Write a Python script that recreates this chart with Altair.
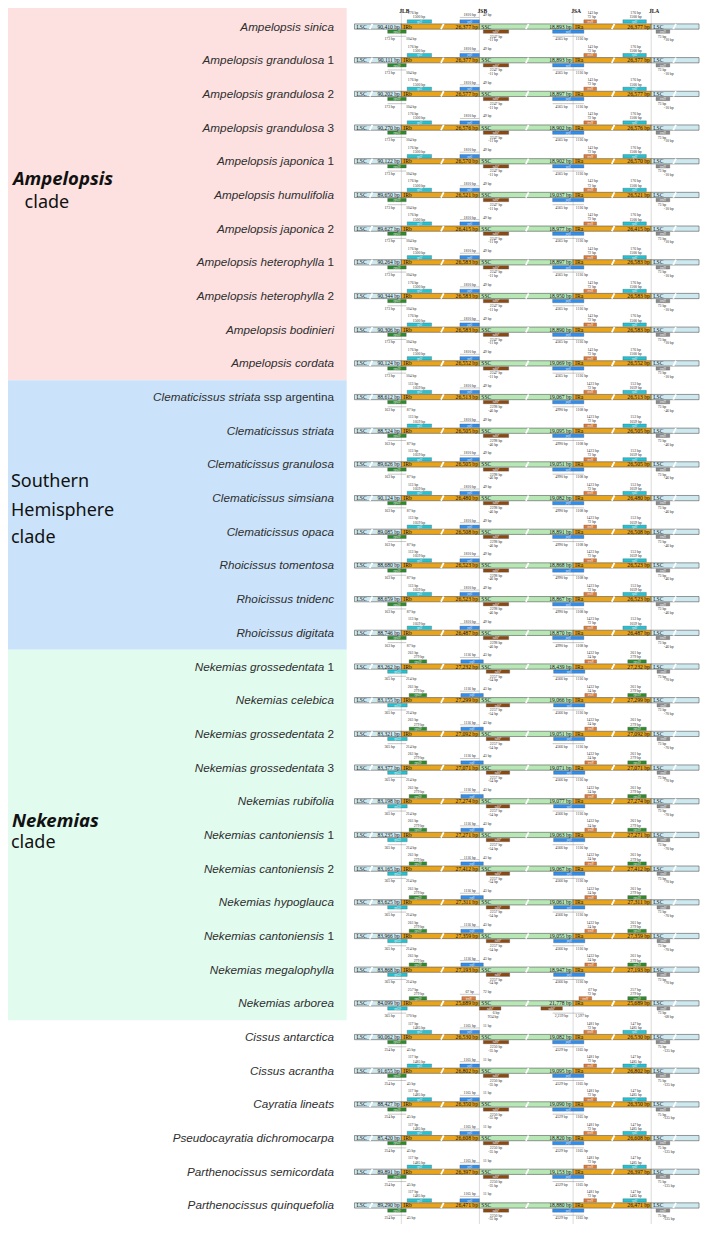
import altair as alt
import pandas as pd

# ---------------- values ----------------
SPECIES = [
    "Ampelopsis sinica", "Ampelopsis grandulosa", "Ampelopsis grandulosa", "Ampelopsis grandulosa",
    "Ampelopsis japonica", "Ampelopsis humulifolia", "Ampelopsis japonica", "Ampelopsis heterophylla",
    "Ampelopsis heterophylla", "Ampelopsis bodinieri", "Ampelopsis cordata",
    "Clematicissus striata", "Clematicissus striata", "Clematicissus granulosa", "Clematicissus simsiana",
    "Clematicissus opaca", "Rhoicissus tomentosa", "Rhoicissus tnidenc", "Rhoicissus digitata",
    "Nekemias grossedentata", "Nekemias celebica", "Nekemias grossedentata", "Nekemias grossedentata",
    "Nekemias rubifolia", "Nekemias cantoniensis", "Nekemias cantoniensis", "Nekemias hypoglauca",
    "Nekemias cantoniensis", "Nekemias megalophylla", "Nekemias arborea",
    "Cissus antarctica", "Cissus acrantha", "Cayratia lineats", "Pseudocayratia dichromocarpa",
    "Parthenocissus semicordata", "Parthenocissus quinquefolia",
]
SUFFIX = [
    "", "1", "2", "3", "1", "", "2", "1", "2", "", "",
    "ssp argentina", "", "", "", "", "", "", "",
    "1", "", "2", "3", "", "1", "2", "", "1", "", "",
    "", "", "", "", "", "",
]
LSC_BP = [
    "90,410", "90,111", "90,202", "90,270", "90,122", "89,650", "89,627", "90,264", "90,344", "90,306", "90,124",
    "88,612", "88,524", "89,626", "90,124", "89,085", "88,680", "88,659", "88,746",
    "83,262", "83,155", "83,321", "83,377", "83,198", "83,235", "83,165", "83,625", "83,966", "83,868", "84,099",
    "90,062", "91,655", "88,427", "85,420", "89,891", "89,290",
]
IR_BP = [
    "26,377", "26,377", "26,577", "26,576", "26,570", "26,521", "26,415", "26,583", "26,583", "26,583", "26,552",
    "26,513", "26,505", "26,505", "26,480", "26,508", "26,523", "26,523", "26,487",
    "27,232", "27,299", "27,092", "27,071", "27,274", "27,271", "27,412", "27,311", "27,359", "27,193", "25,689",
    "26,530", "26,802", "26,350", "26,608", "26,397", "26,471",
]
SSC_BP = [
    "18,893", "18,893", "18,897", "18,902", "18,902", "19,037", "18,977", "18,897", "18,950", "18,890", "19,069",
    "19,067", "19,095", "19,051", "19,082", "18,891", "18,868", "18,867", "18,870",
    "18,439", "19,066", "19,051", "19,071", "19,077", "19,063", "19,067", "19,061", "19,055", "18,947", "21,778",
    "19,082", "19,095", "19,090", "18,820", "19,153", "18,880",
]
TEMPLATE = ["A"] * 11 + ["S"] * 8 + ["N"] * 10 + ["R"] + ["O"] * 6

CLADE_LINES = ["Ampelopsis", "clade", "Southern", "Hemisphere", "clade", "Nekemias", "clade"]
CLADE_LINE_BOLD = [True, False, False, False, False, True, False]
CLADE_FIRST = [0, 11, 19]
CLADE_LAST = [10, 18, 29]
CLADE_NAMES = ["Ampelopsis", "Southern Hemisphere", "Nekemias"]
CLADE_COLORS = ["#fde1e1", "#cae3fa", "#e2fbef"]

REGIONS = ["LSC", "IRb", "SSC", "IRa", "LSC"]
REGION_KIND = ["LSC", "IR", "SSC", "IR", "LSC"]
JUNCTIONS = ["JLB", "JSB", "JSA", "JLA"]

GENES = ["rpl2", "rpl22", "rps19", "ycf1", "trnN", "ndhF", "trnH"]
GENE_COLORS = ["#22c3d3", "#22c3d3", "#2e8b2e", "#2f8ff0", "#e07b36", "#8b4a14", "#8c8c8c"]

# gene features per template: (gene, start, end, side) in schematic units
BOXES_A = [("rpl2", 54, 79, "up"), ("ycf1", 108, 128, "up"), ("trnN", 235, 248, "up"),
           ("rpl2", 275, 299, "up"), ("rps19", 34, 53, "down"), ("ndhF", 132, 158, "down"),
           ("ycf1", 203, 235, "down"), ("trnH", 309, 323, "down")]
BOXES_N = [("rps19", 56, 74, "up"), ("ycf1", 109, 132, "up"), ("trnN", 236, 248, "up"),
           ("rps19", 280, 299, "up"), ("rpl22", 34, 54, "down"), ("ndhF", 135, 159, "down"),
           ("ycf1", 204, 236, "down"), ("trnH", 310, 323, "down")]
BOXES_R = [("rps19", 56, 74, "up"), ("trnN", 110, 124, "up"), ("trnN", 230, 243, "up"),
           ("rps19", 280, 299, "up"), ("rpl22", 34, 54, "down"), ("ndhF", 128, 150, "down"),
           ("ndhF", 191, 213, "down"), ("trnH", 310, 323, "down")]
BOXES = {"A": BOXES_A, "S": BOXES_A, "O": BOXES_A, "N": BOXES_N, "R": BOXES_R}

ANNOT = {
    "A": ["176 bp", "1500 bp", "1810 bp", "49 bp", "143 bp", "72 bp", "176 bp", "1500 bp",
          "173 bp", "104 bp", "2247 bp", "-11 bp", "4565 bp", "1116 bp", "73 bp", "-10 bp"],
    "S": ["113 bp", "1059 bp", "1810 bp", "49 bp", "1423 bp", "72 bp", "153 bp", "1059 bp",
          "163 bp", "87 bp", "2298 bp", "-46 bp", "4990 bp", "1108 bp", "73 bp", "-46 bp"],
    "N": ["261 bp", "279 bp", "1116 bp", "43 bp", "1432 bp", "24 bp", "261 bp", "279 bp",
          "365 bp", "214 bp", "2257 bp", "-54 bp", "4566 bp", "1116 bp", "73 bp", "-70 bp"],
    "R": ["257 bp", "279 bp", "67 bp", "72 bp", "67 bp", "72 bp", "257 bp", "279 bp",
          "365 bp", "170 bp", "6 bp", "934 bp", "2,239 bp", "1,597 bp", "73 bp", "-68 bp"],
    "O": ["117 bp", "1485 bp", "1165 bp", "11 bp", "1481 bp", "72 bp", "147 bp", "1485 bp",
          "254 bp", "45 bp", "2250 bp", "-35 bp", "4529 bp", "1165 bp", "75 bp", "-135 bp"],
}

# ---------------- layout (schematic coordinates) ----------------
W, H = 692, 1216
X_DOMAIN = [0, 709]
Y_DOMAIN = [-0.55, 35.55]
PANEL_X0 = 355
BOUNDS = [0, 48, 128, 224, 304, 353]
SLASHES = [17, 90, 177, 265, 328]
LEFT_PANEL_END = 347
LABEL_RIGHT = 334
ANNOT_SLOTS = [(60, -0.40), (66, -0.27), (118, -0.33), (136, -0.33), (244, -0.40), (243, -0.28),
               (288, -0.40), (288, -0.27), (36, 0.38), (58, 0.38), (145, 0.30), (142, 0.41),
               (212, 0.38), (233, 0.38), (315, 0.30), (322, 0.41)]
MEASURES = [(34, 53, 0.29), (108, 128, -0.27), (203, 235, 0.29)]
CLADE_POS = [(5, 4.69), (17, 5.39), (3, 13.68), (3, 14.52), (3, 15.34), (4, 23.76), (3, 24.38)]
BAR_HALF = 0.078
K = W / X_DOMAIN[1]

CHAR_W = {" ": 278, "s": 500, "p": 556, "a": 556, "r": 333, "g": 556, "e": 556, "n": 556,
          "t": 278, "i": 222}


def text_width(s, size):
    return sum(CHAR_W.get(c, 556) for c in s) / 1000 * size


# ---------------- tables ----------------
n = len(SPECIES)
seg, bar_lbl, bar_val, slash, boxes, glabel, annot, meas = [], [], [], [], [], [], [], []
for r in range(n):
    vals = [LSC_BP[r], IR_BP[r], SSC_BP[r], IR_BP[r]]
    for i in range(5):
        seg.append(dict(x=PANEL_X0 + BOUNDS[i], x2=PANEL_X0 + BOUNDS[i + 1],
                        y=r - BAR_HALF, y2=r + BAR_HALF, kind=REGION_KIND[i]))
        bar_lbl.append(dict(x=PANEL_X0 + BOUNDS[i] + 2, y=r, t=REGIONS[i]))
        if i < 4:
            bar_val.append(dict(x=PANEL_X0 + BOUNDS[i + 1] - 1.5, y=r, t=vals[i] + " bp"))
    for s in SLASHES:
        slash.append(dict(x=PANEL_X0 + s - 1.4, x2=PANEL_X0 + s + 1.4,
                          y=r + BAR_HALF, y2=r - BAR_HALF))
    tpl = TEMPLATE[r]
    for g, a, b, side in BOXES[tpl]:
        y0, y1 = (r - 0.2, r - 0.1) if side == "up" else (r + 0.1, r + 0.2)
        boxes.append(dict(x=PANEL_X0 + a, x2=PANEL_X0 + b, y=y0, y2=y1, gene=g))
        glabel.append(dict(x=PANEL_X0 + (a + b) / 2, y=(y0 + y1) / 2, t=g))
    for (ax, dy), t in zip(ANNOT_SLOTS, ANNOT[tpl]):
        annot.append(dict(x=PANEL_X0 + ax, y=r + dy, t=t))
    for a, b, dy in MEASURES:
        meas.append(dict(x=PANEL_X0 + a, x2=PANEL_X0 + b, y=r + dy))

seg, bar_lbl, bar_val, slash = map(pd.DataFrame, (seg, bar_lbl, bar_val, slash))
boxes, glabel, annot, meas = map(pd.DataFrame, (boxes, glabel, annot, meas))

bands = pd.DataFrame(dict(
    x=[0] * 3, x2=[LEFT_PANEL_END] * 3,
    y=[f - 0.5 if f > 0 else Y_DOMAIN[0] for f in CLADE_FIRST],
    y2=[l + 0.5 for l in CLADE_LAST], clade=CLADE_NAMES))

junc = pd.DataFrame(dict(x=[PANEL_X0 + b for b in BOUNDS[1:5]], y=[Y_DOMAIN[0]] * 4,
                         y2=[Y_DOMAIN[1]] * 4, t=JUNCTIONS,
                         xl=[PANEL_X0 + b + 3 for b in BOUNDS[1:5]], yl=[-0.47] * 4))

SP_SIZE = 12 * K
sp_main = pd.DataFrame(dict(
    x=[LABEL_RIGHT - (text_width(" " + s, 12) if s else 0) for s in SUFFIX],
    y=list(range(n)), t=SPECIES))
sp_suf = pd.DataFrame(dict(x=[LABEL_RIGHT] * n, y=list(range(n)), t=SUFFIX))
sp_suf = sp_suf[sp_suf.t != ""]

clade_txt = pd.DataFrame(dict(x=[p[0] for p in CLADE_POS], y=[p[1] for p in CLADE_POS],
                              t=CLADE_LINES, bold=CLADE_LINE_BOLD))

# ---------------- chart ----------------
xs = alt.Scale(domain=X_DOMAIN, nice=False, zero=False)
ys = alt.Scale(domain=Y_DOMAIN, nice=False, zero=False, reverse=True)


def X(f="x"):
    return alt.X(f"{f}:Q", scale=xs, axis=None)


def Y(f="y"):
    return alt.Y(f"{f}:Q", scale=ys, axis=None)


band_layer = alt.Chart(bands).mark_rect().encode(
    x=X(), x2="x2", y=Y(), y2="y2",
    color=alt.Color("clade:N", scale=alt.Scale(domain=CLADE_NAMES, range=CLADE_COLORS), legend=None))

junc_layer = alt.Chart(junc).mark_rule(color="#c4c4c4", strokeWidth=0.6).encode(
    x=X(), y=Y(), y2="y2")

junc_lbl = alt.Chart(junc).mark_text(font="Liberation Serif", fontSize=5.5, fontWeight="bold",
                                     color="#111", baseline="middle").encode(
    x=X("xl"), y=Y("yl"), text="t:N")

meas_layer = alt.Chart(meas).mark_rule(color="#777", strokeWidth=0.4).encode(
    x=X(), x2="x2", y=Y())

seg_layer = alt.Chart(seg).mark_rect(stroke="#555", strokeWidth=0.6).encode(
    x=X(), x2="x2", y=Y(), y2="y2",
    color=alt.Color("kind:N", scale=alt.Scale(domain=["LSC", "IR", "SSC"],
                                              range=["#cde9ef", "#e8a41a", "#b6e7b4"]), legend=None))

slash_layer = alt.Chart(slash).mark_rule(color="white", strokeWidth=1.8).encode(
    x=X(), x2="x2", y=Y(), y2="y2")

box_layer = alt.Chart(boxes).mark_rect(stroke="#444", strokeWidth=0.3).encode(
    x=X(), x2="x2", y=Y(), y2="y2",
    color=alt.Color("gene:N", scale=alt.Scale(domain=GENES, range=GENE_COLORS), legend=None))

glabel_layer = alt.Chart(glabel).mark_text(font="Liberation Serif", fontSize=3, fontStyle="italic",
                                           color="white", baseline="middle").encode(
    x=X(), y=Y(), text="t:N")

annot_layer = alt.Chart(annot).mark_text(font="Liberation Serif", fontSize=3.8, color="#333",
                                         baseline="middle").encode(
    x=X(), y=Y(), text="t:N")

bar_lbl_layer = alt.Chart(bar_lbl).mark_text(font="Liberation Serif", fontSize=5.6, color="#111",
                                             align="left", baseline="middle").encode(
    x=X(), y=Y(), text="t:N")

bar_val_layer = alt.Chart(bar_val).mark_text(font="Liberation Serif", fontSize=5.6, color="#111",
                                             align="right", baseline="middle").encode(
    x=X(), y=Y(), text="t:N")

sp_main_layer = alt.Chart(sp_main).mark_text(font="Liberation Sans", fontSize=SP_SIZE, fontStyle="italic",
                                             color="#2e2e2e", align="right", baseline="middle").encode(
    x=X(), y=Y(), text="t:N")

sp_suf_layer = alt.Chart(sp_suf).mark_text(font="Liberation Sans", fontSize=SP_SIZE,
                                           color="#2e2e2e", align="right", baseline="middle").encode(
    x=X(), y=Y(), text="t:N")

clade_bold = alt.Chart(clade_txt[clade_txt.bold]).mark_text(
    font="Noto Sans", fontSize=18.5, fontStyle="italic", fontWeight="bold", color="#111",
    align="left", baseline="alphabetic").encode(x=X(), y=Y(), text="t:N")

clade_reg = alt.Chart(clade_txt[~clade_txt.bold]).mark_text(
    font="Noto Sans", fontSize=18, color="#111", align="left", baseline="alphabetic").encode(
    x=X(), y=Y(), text="t:N")

chart = alt.layer(
    band_layer, junc_layer, junc_lbl, meas_layer, seg_layer, slash_layer, box_layer,
    glabel_layer, annot_layer, bar_lbl_layer, bar_val_layer, sp_main_layer, sp_suf_layer,
    clade_bold, clade_reg,
).resolve_scale(color="independent").properties(
    width=W, height=H, padding=0, autosize="none"
).configure_view(stroke=None)

chart.save("out.html", embed_options={"renderer": "svg", "actions": False})
